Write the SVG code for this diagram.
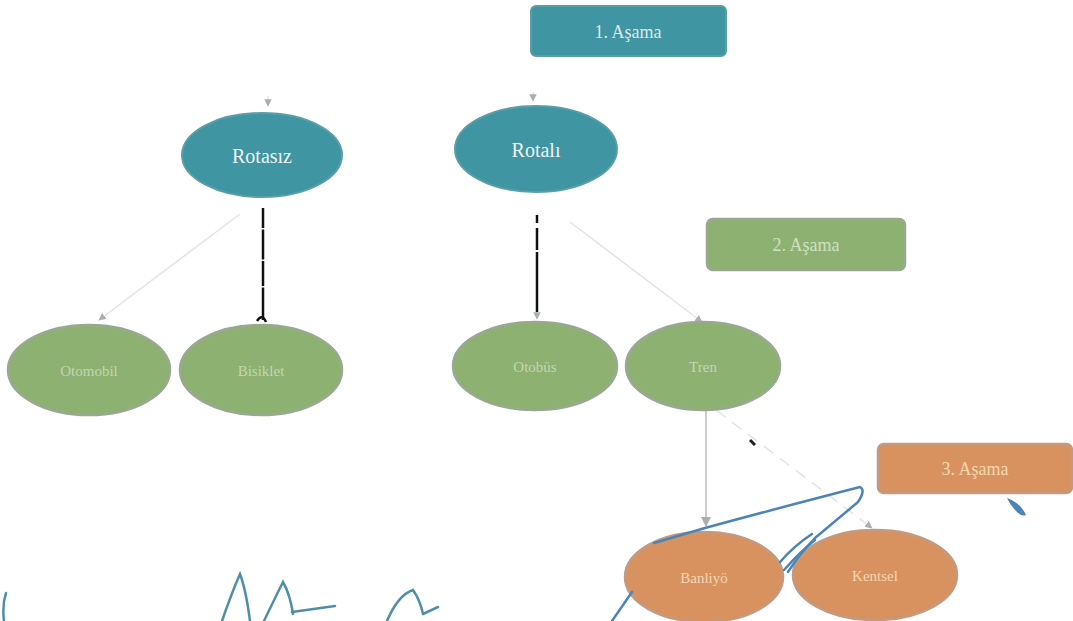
<svg xmlns="http://www.w3.org/2000/svg" width="1073" height="621" viewBox="0 0 1073 621">
<defs>
<style>
.t{font-family:"Liberation Serif","DejaVu Serif",serif;text-anchor:middle;dominant-baseline:central}
.teal{fill:#3f95a1;stroke:#5a9ea6;stroke-width:2}
.green{fill:#8db170;stroke:#9aa892;stroke-width:2.5}
.orange{fill:#d8925f;stroke:#c39a80;stroke-width:2.5}
.tw{fill:#eef3f2;font-size:20px}
.tg{fill:#c4d6b4;font-size:15px}
.to{fill:#f3d6b2;font-size:15px}
.faint{stroke:#e1e4e2;stroke-width:1.5;fill:none}
.grey{stroke:#c9cccb;stroke-width:2;fill:none}
.ink{stroke:#111;stroke-width:2.5;fill:none}
.blue{stroke:#4d84b6;stroke-width:2.5;fill:none;stroke-linecap:round;stroke-linejoin:round}
.sig{stroke:#4f8fa6;stroke-width:2.5;fill:none;stroke-linecap:round}
</style>
<marker id="ah" viewBox="0 0 10 10" refX="9" refY="5" markerWidth="5" markerHeight="5" orient="auto-start-reverse">
<path d="M0,0 L10,5 L0,10 z" fill="#a9b0ad"/>
</marker>
</defs>
<rect width="1073" height="621" fill="#ffffff"/>
<g id="connectors">
<line class="faint" x1="268" y1="96" x2="268" y2="106" marker-end="url(#ah)"/>
<line class="faint" x1="533" y1="92" x2="533" y2="101" marker-end="url(#ah)"/>
<line class="faint" x1="240" y1="214" x2="99" y2="320" marker-end="url(#ah)"/>
<line class="ink" x1="263" y1="208" x2="263" y2="320" stroke-dasharray="20 1.5 30 1.5 25 1.5 40"/>
<path class="ink" d="M257,321 Q262,313 266,322" stroke-width="2"/>
<line class="ink" x1="537" y1="215" x2="537" y2="312" stroke-dasharray="8 5 22 2 60"/>
<line class="faint" x1="537" y1="312" x2="537" y2="319" marker-end="url(#ah)"/>
<line class="faint" x1="570" y1="222" x2="702" y2="322" marker-end="url(#ah)"/>
<line class="grey" x1="706" y1="410" x2="706" y2="526" marker-end="url(#ah)"/>
<line class="faint" x1="716" y1="410" x2="872" y2="528" stroke-dasharray="12 8" marker-end="url(#ah)"/>
<line x1="750" y1="440" x2="755" y2="445" stroke="#222" stroke-width="3"/>
</g>
<g id="n-asama1">
<rect class="teal" x="531" y="6" width="195" height="50" rx="5"/>
<text class="t" x="628" y="32" fill="#dbe9ea" font-size="18">1. Aşama</text>
</g>
<g id="n-rotasiz">
<ellipse class="teal" cx="262" cy="155" rx="80" ry="42"/>
<text class="t tw" x="262" y="156">Rotasız</text>
</g>
<g id="n-rotali">
<ellipse class="teal" cx="536" cy="149" rx="81" ry="43"/>
<text class="t tw" x="536" y="150">Rotalı</text>
</g>
<g id="n-asama2">
<rect class="green" x="707" y="219" width="198" height="51" rx="6"/>
<text class="t" x="806" y="245" fill="#cfe0c0" font-size="18">2. Aşama</text>
</g>
<g id="n-otomobil">
<ellipse class="green" cx="89" cy="370" rx="81" ry="45"/>
<text class="t tg" x="89" y="371">Otomobil</text>
</g>
<g id="n-bisiklet">
<ellipse class="green" cx="261" cy="370" rx="81" ry="45"/>
<text class="t tg" x="261" y="371">Bisiklet</text>
</g>
<g id="n-otobus">
<ellipse class="green" cx="535" cy="366" rx="82" ry="44"/>
<text class="t tg" x="535" y="367">Otobüs</text>
</g>
<g id="n-tren">
<ellipse class="green" cx="703" cy="366" rx="77" ry="44"/>
<text class="t tg" x="703" y="367">Tren</text>
</g>
<g id="n-asama3">
<rect class="orange" x="878" y="444" width="194" height="49" rx="6"/>
<text class="t" x="975" y="469" fill="#f4d7ae" font-size="18">3. Aşama</text>
</g>
<g id="n-banliyo">
<ellipse class="orange" cx="704" cy="577" rx="79" ry="45"/>
<text class="t to" x="704" y="578">Banliyö</text>
</g>
<g id="n-kentsel">
<ellipse class="orange" cx="875" cy="575" rx="82" ry="45"/>
<text class="t to" x="875" y="576">Kentsel</text>
</g>
<g id="scribbles">
<path class="blue" d="M654,543 L705,528 Q790,505 860,487 Q866,490 858,502 L815,538 Q798,556 788,572"/>
<path class="blue" d="M780,562 Q795,545 812,534 M784,570 Q800,552 815,540" stroke-width="2"/>
<path class="blue" d="M612,621 L632,592" stroke-width="2"/>
<path d="M1007,498 Q1020,502 1026,515 Q1022,517 1016,511 Q1010,505 1007,498 z" fill="#4d84b6"/>
<path class="sig" d="M222,621 Q232,592 240,574 Q246,590 250,621"/>
<path class="sig" d="M264,621 Q275,598 283,582 Q290,594 293,614 M292,612 L335,606"/>
<path class="sig" d="M387,621 Q398,595 413,590 Q420,600 423,614 M423,614 L438,607"/>
<path class="sig" d="M6,593 Q2,605 4,621" stroke-width="2"/>
</g>
</svg>
